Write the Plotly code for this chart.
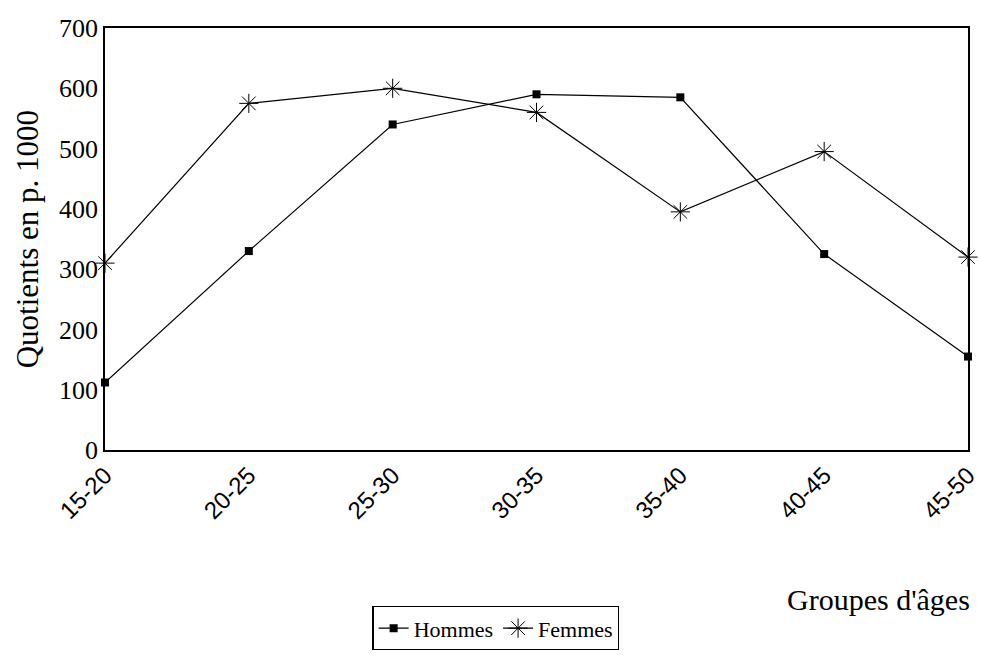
import plotly.graph_objects as go

categories = ["15-20", "20-25", "25-30", "30-35", "35-40", "40-45", "45-50"]
hommes = [112, 330, 540, 590, 585, 325, 155]
femmes = [310, 575, 600, 560, 395, 495, 320]
y_ticks = [0, 100, 200, 300, 400, 500, 600, 700]

SERIF = "Liberation Serif"
SANS = "Liberation Sans"

fig = go.Figure()
fig.add_trace(go.Scatter(
    x=categories, y=hommes, name="Hommes", mode="lines+markers",
    line=dict(color="black", width=1.2),
    marker=dict(symbol="square", size=8, color="black"),
    cliponaxis=False,
))
fig.add_trace(go.Scatter(
    x=categories, y=femmes, name="Femmes", mode="lines+markers",
    line=dict(color="black", width=1.2),
    marker=dict(symbol="asterisk-open", size=16, color="black", line=dict(color="black", width=1)),
    cliponaxis=False,
))

fig.update_layout(
    width=981, height=666,
    margin=dict(l=105, r=13, t=28, b=216),
    paper_bgcolor="white", plot_bgcolor="white",
    font=dict(family=SERIF, color="black", size=20),
    xaxis=dict(
        type="category", range=[0, 6], tickangle=-45, automargin=False,
        showline=True, linecolor="black", linewidth=1.5, mirror=True,
        showgrid=False, ticks="", tickfont=dict(size=24, family=SANS),
    ),
    yaxis=dict(
        range=[0, 700], tickvals=y_ticks, automargin=False,
        showline=True, linecolor="black", linewidth=1.5, mirror=True,
        showgrid=False, zeroline=False, ticks="",
        tickfont=dict(size=26, family=SERIF),
    ),
    legend=dict(
        orientation="h", x=0.453, xanchor="center", y=-0.37, yanchor="top",
        bordercolor="black", borderwidth=1.2, bgcolor="white",
        font=dict(size=22, family=SERIF), itemwidth=30,
    ),
    annotations=[
        dict(
            text="Groupes d'âges", xref="paper", yref="paper", x=1.005, y=-0.355,
            xanchor="right", yanchor="middle", showarrow=False,
            font=dict(size=30, family=SERIF),
        ),
        dict(
            text="Quotients en p. 1000", xref="paper", yref="paper", x=-0.09, y=0.5,
            xanchor="center", yanchor="middle", textangle=-90, showarrow=False,
            font=dict(size=31, family=SERIF),
        ),
    ],
)

fig.write_html(
    "out.html",
    config={"displayModeBar": False},
    post_script="document.body.style.margin='0';document.body.style.overflow='hidden';",
)
